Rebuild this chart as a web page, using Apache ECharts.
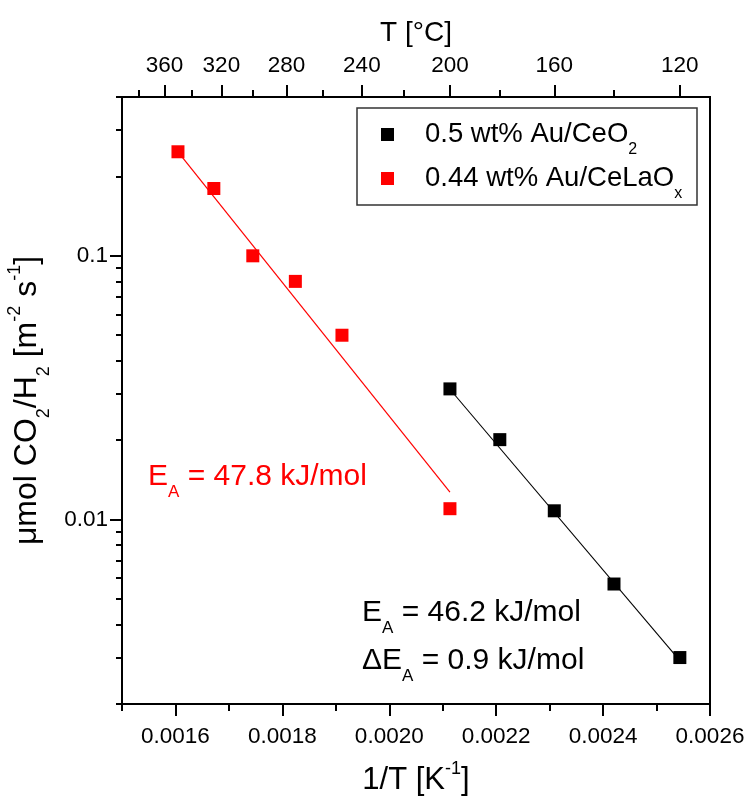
<!DOCTYPE html>
<html>
<head>
<meta charset="utf-8">
<script src="https://cdn.jsdelivr.net/npm/echarts@6/dist/echarts.min.js"></script>
<style>html,body{margin:0;padding:0;background:#fff}#c{width:747px;height:797px}</style>
</head>
<body>
<div id="c"></div>
<script>
// ---- data ----
const seriesNames = ['0.5 wt% Au/CeO2', '0.44 wt% Au/CeLaOx'];
const legendLabels = ['0.5 wt% Au/CeO{sub|2}', '0.44 wt% Au/CeLaO{sub|x}'];

// 1/T [K^-1] and rate [µmol m^-2 s^-1]
const invT_CeO2 = [0.0021135, 0.0022068, 0.0023087, 0.0024204, 0.0025436];
const rate_CeO2 = [0.0313, 0.0201, 0.0108, 0.0057, 0.0030];
const invT_CeLaOx = [0.0016047, 0.0016718, 0.0017447, 0.0018243, 0.0019115, 0.0021135];
const rate_CeLaOx = [0.248, 0.180, 0.100, 0.080, 0.050, 0.011];

// Arrhenius fit lines (end points)
const fitX_CeO2 = [0.0021135, 0.0025436];
const fitY_CeO2 = [0.0312, 0.00292];
const fitX_CeLaOx = [0.0016047, 0.0021135];
const fitY_CeLaOx = [0.248, 0.0127];

// axis ticks
const xMajorTicks = [0.0016, 0.0018, 0.0020, 0.0022, 0.0024, 0.0026];
const xMinorTicks = [0.0015, 0.0017, 0.0019, 0.0021, 0.0023, 0.0025];
const topMajorC = [360, 320, 280, 240, 200, 160, 120];
const topMinorC = [380, 340, 300, 260, 220, 180, 140];
const yMajorTicks = [0.01, 0.1];
const yMinorTicks = [0.002, 0.003, 0.004, 0.005, 0.006, 0.007, 0.008, 0.009,
                     0.02, 0.03, 0.04, 0.05, 0.06, 0.07, 0.08, 0.09,
                     0.2, 0.3, 0.4];

const annotations = [
  {text: 'E{sub|A} = 47.8 kJ/mol', color: '#ff0000', left: 148, top: 452},
  {text: 'E{sub|A} = 46.2 kJ/mol', color: '#000000', left: 362, top: 588},
  {text: '\u0394E{sub|A} = 0.9 kJ/mol', color: '#000000', left: 362, top: 636}
];

// ---- chart ----
const FONT = '"Liberation Sans", Arial, sans-serif';
const toInv = c => 1 / (c + 273.15);
const zip = (a, b) => a.map((v, i) => [v, b[i]]);

const X_MIN = 0.0015, X_MAX = 0.0026, Y_MIN = 0.002, Y_MAX = 0.4;

const lineBlack = {color: '#000', width: 2};

function xAxisBase(pos) {
  return {
    type: 'value', min: X_MIN, max: X_MAX, position: pos,
    splitLine: {show: false}, axisPointer: {show: false}
  };
}
function yAxisBase() {
  return {
    type: 'log', logBase: 10, min: Y_MIN, max: Y_MAX, position: 'left',
    splitLine: {show: false}, minorTick: {show: false}
  };
}

const chart = echarts.init(document.getElementById('c'), null, {renderer: 'canvas'});

const option = {
  animation: false,
  backgroundColor: '#fff',
  textStyle: {fontFamily: FONT},
  grid: {left: 122, right: 37, top: 97, bottom: 93, containLabel: false, outerBoundsMode: 'none',
         show: true, borderColor: '#000', borderWidth: 2, backgroundColor: 'transparent'},
  legend: {
    data: seriesNames,
    orient: 'vertical',
    left: 381, top: 111,
    padding: 0,
    itemGap: -3,
    icon: 'rect',
    itemWidth: 13, itemHeight: 13,
    selectedMode: false,
    formatter: name => '{g| }' + legendLabels[seriesNames.indexOf(name)],
    textStyle: {
      fontSize: 27.5, color: '#000', fontFamily: FONT,
      rich: {
        g: {width: 26, fontSize: 27.5},
        sub: {fontSize: 16, lineHeight: 16, padding: [31, 0, 0, 0], fontFamily: FONT, color: '#000'}
      }
    }
  },
  xAxis: [
    Object.assign(xAxisBase('bottom'), {
      name: '1/T [K{sup|-1}]', nameLocation: 'middle', nameGap: 61,
      nameTextStyle: {fontSize: 31, color: '#000', fontFamily: FONT,
        rich: {sup: {fontSize: 18, lineHeight: 18, padding: [0, 0, 22, 0], color: '#000', fontFamily: FONT}}},
      axisLine: {show: true, onZero: false, lineStyle: lineBlack},
      axisTick: {show: true, inside: false, length: 12, customValues: xMajorTicks, lineStyle: lineBlack},
      axisLabel: {show: true, customValues: xMajorTicks, margin: 21, fontSize: 22.5, color: '#000', fontFamily: FONT,
                  formatter: v => v.toFixed(4)}
    }),
    Object.assign(xAxisBase('bottom'), {
      axisLine: {show: false},
      axisTick: {show: true, inside: false, length: 7, customValues: xMinorTicks, lineStyle: lineBlack},
      axisLabel: {show: false}
    }),
    Object.assign(xAxisBase('top'), {
      name: 'T [\u00B0C]', nameLocation: 'middle', nameGap: 50,
      nameTextStyle: {fontSize: 28, color: '#000', fontFamily: FONT},
      axisLine: {show: true, onZero: false, lineStyle: lineBlack},
      axisTick: {show: true, inside: false, length: 12, customValues: topMajorC.map(toInv), lineStyle: lineBlack},
      axisLabel: {show: true, customValues: topMajorC.map(toInv), margin: 20, fontSize: 22.5, color: '#000', fontFamily: FONT,
                  formatter: v => String(Math.round(1 / v - 273.15))}
    }),
    Object.assign(xAxisBase('top'), {
      axisLine: {show: false},
      axisTick: {show: true, inside: false, length: 7, customValues: topMinorC.map(toInv), lineStyle: lineBlack},
      axisLabel: {show: false}
    })
  ],
  yAxis: [
    Object.assign(yAxisBase(), {
      name: '\u03BCmol CO{sub|2}/H{sub|2} [m{sup|-2} s{sup|-1}]',
      nameLocation: 'middle', nameGap: 59,
      nameTextStyle: {fontSize: 32, color: '#000', fontFamily: FONT,
        rich: {
          sub: {fontSize: 18, lineHeight: 18, padding: [34, 0, 0, 0], color: '#000', fontFamily: FONT},
          sup: {fontSize: 18, lineHeight: 18, padding: [0, 0, 24, 0], color: '#000', fontFamily: FONT}
        }},
      axisLine: {show: true, onZero: false, lineStyle: lineBlack},
      axisTick: {show: true, inside: false, length: 12, customValues: yMajorTicks, lineStyle: lineBlack},
      axisLabel: {show: true, customValues: yMajorTicks, margin: 14, fontSize: 22.5, color: '#000', fontFamily: FONT,
                  formatter: v => String(+(+v).toPrecision(3))}
    }),
    Object.assign(yAxisBase(), {
      axisLine: {show: false},
      axisTick: {show: true, inside: false, length: 6, customValues: yMinorTicks, lineStyle: lineBlack},
      axisLabel: {show: false}
    })
  ],
  series: [
    {
      name: 'fitCeLaOx', type: 'line', xAxisIndex: 0, yAxisIndex: 0,
      data: zip(fitX_CeLaOx, fitY_CeLaOx), showSymbol: false, symbol: 'none', silent: true,
      lineStyle: {color: '#ff0000', width: 1.2}, z: 2
    },
    {
      name: 'fitCeO2', type: 'line', xAxisIndex: 0, yAxisIndex: 0,
      data: zip(fitX_CeO2, fitY_CeO2), showSymbol: false, symbol: 'none', silent: true,
      lineStyle: {color: '#000', width: 1.1}, z: 2
    },
    {
      name: seriesNames[0], type: 'scatter', xAxisIndex: 0, yAxisIndex: 0,
      data: zip(invT_CeO2, rate_CeO2), symbol: 'rect', symbolSize: 13,
      itemStyle: {color: '#000', opacity: 1}, z: 3
    },
    {
      name: seriesNames[1], type: 'scatter', xAxisIndex: 0, yAxisIndex: 0,
      data: zip(invT_CeLaOx, rate_CeLaOx), symbol: 'rect', symbolSize: 13,
      itemStyle: {color: '#ff0000', opacity: 1}, z: 3
    }
  ],
  graphic: [
    {type: 'rect', shape: {x: 357, y: 108, width: 340, height: 97}, z: 10,
     style: {fill: null, stroke: '#333', lineWidth: 1.5}, silent: true}
  ].concat(annotations.map(a => ({
    type: 'text', left: a.left, top: a.top, z: 10, silent: true,
    style: {
      text: a.text, fill: a.color, fontSize: 30, fontFamily: FONT,
      rich: {sub: {fontSize: 17, lineHeight: 17, padding: [32, 0, 0, 0], fill: a.color, color: a.color, fontFamily: FONT}}
    }
  })))
};

chart.setOption(option);
</script>
</body>
</html>
